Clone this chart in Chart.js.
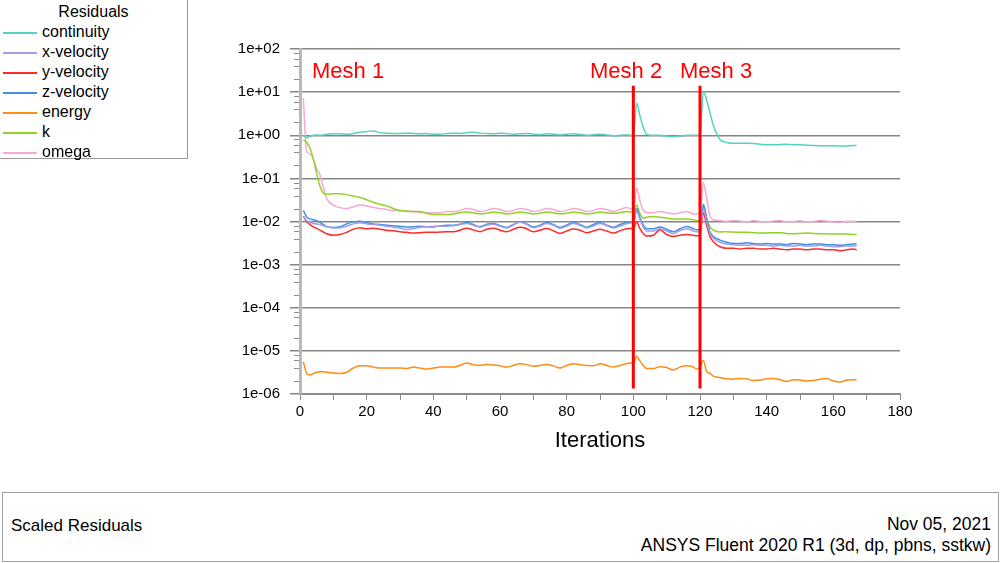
<!DOCTYPE html>
<html>
<head>
<meta charset="utf-8">
<script src="https://cdn.jsdelivr.net/npm/chart.js@4.4.1/dist/chart.umd.min.js"></script>
<style>
html,body{margin:0;padding:0;background:#fff;width:1000px;height:563px;overflow:hidden;font-family:"Liberation Sans",Arial,sans-serif;color:#000;}
#wrap{position:absolute;left:0;top:0;width:1000px;height:490px;}
#legend{position:absolute;left:-1px;top:-1px;width:187px;height:158px;border:1px solid #9a9a9a;background:#fff;}
#legend .lt{position:absolute;left:0;width:187px;top:2px;height:20px;line-height:20px;text-align:center;font-size:16px;}
#legend .row{position:absolute;left:0;width:187px;height:20px;}
#legend .sw{position:absolute;left:3px;width:34px;top:10px;height:0;border-top:2px solid #000;}
#legend .tx{position:absolute;left:42px;top:0;line-height:20px;font-size:16px;white-space:nowrap;}
#footer{position:absolute;left:2px;top:492px;width:995px;height:68px;border:1px solid #a0a0a0;background:#fff;}
#footer .l{position:absolute;left:8px;top:23px;line-height:20px;font-size:17px;}
#footer .r1{position:absolute;right:7px;top:21px;line-height:20px;text-align:right;font-size:17.5px;}
#footer .r2{position:absolute;right:7px;top:42px;line-height:20px;text-align:right;font-size:17.5px;}
</style>
</head>
<body>
<div id="wrap"><canvas id="c" width="1000" height="490"></canvas></div>
<div id="legend"><div class="lt">Residuals</div></div>
<div id="footer">
  <div class="l">Scaled Residuals</div>
  <div class="r1">Nov 05, 2021</div>
  <div class="r2">ANSYS Fluent 2020 R1 (3d, dp, pbns, sstkw)</div>
</div>
<script>
// ---------------- DATA ----------------
const iterations = [1,2,3,4,5,6,7,8,
 10,12,14,16,18,20,22,24,26,28,30,32,34,36,38,40,42,44,46,48,50,52,54,56,58,60,62,64,66,68,70,72,74,76,78,80,82,84,86,88,90,92,94,96,98,
 99,100,101,102,103,104,
 106,108,110,112,114,116,118,
 119,120,121,122,123,124,
 126,128,130,132,134,136,138,140,142,144,146,148,150,152,154,156,158,160,162,164,166,
 167];

const continuity = [1.0,0.87,0.95,1.0,1.02,1.0,1.02,1.05,
 1.08,1.08,1.05,1.1,1.18,1.22,1.25,1.15,1.12,1.1,1.1,1.12,1.1,1.08,1.1,1.05,1.05,1.1,1.12,1.1,1.15,1.18,1.12,1.1,1.08,1.12,1.1,1.05,1.08,1.1,1.06,1.04,1.08,1.06,1.02,1.05,1.08,1.04,1.0,1.03,1.06,1.02,0.98,1.0,1.02,
 1.0,1.0,5.5,2.8,1.5,1.05,
 1.0,1.0,0.95,0.92,0.95,1.0,1.0,
 1.0,1.0,10.2,6.5,3.3,1.7,
 0.8,0.68,0.65,0.65,0.65,0.64,0.62,0.6,0.6,0.61,0.62,0.6,0.6,0.59,0.58,0.57,0.57,0.57,0.56,0.56,0.58,
 0.58];

const xVelocity = [0.013,0.0105,0.0095,0.009,0.0088,0.0085,0.008,0.0075,
 0.0071,0.0072,0.0078,0.0088,0.0094,0.0088,0.0085,0.0082,0.0078,0.0074,0.0071,0.0065,0.0068,0.0074,0.0076,0.0077,0.0078,0.0078,0.008,0.0085,
 0.009,0.0082,0.0074,0.0082,0.0086,0.0078,0.0071,0.0083,0.0098,0.0086,0.0072,0.0078,0.009,0.0082,0.007,0.0078,0.009,0.0082,0.0071,0.0078,0.009,0.008,0.0071,0.0079,0.0088,
 0.0092,0.0094,0.017,0.011,0.0073,0.006,
 0.006,0.0068,0.006,0.0052,0.0062,0.0068,0.006,
 0.0058,0.0058,0.02,0.01,0.0052,0.0041,
 0.0033,0.003,0.0029,0.0028,0.0028,0.0029,0.0028,0.0028,0.0027,0.0028,0.0027,0.0027,0.0028,0.0027,0.0027,0.0028,0.0027,0.0026,0.0026,0.0027,0.0027,
 0.0027];

const yVelocity = [0.0133,0.0098,0.0085,0.0075,0.0069,0.0063,0.0057,0.0052,
 0.0048,0.005,0.0056,0.0066,0.0072,0.0068,0.007,0.0066,0.0063,0.0061,0.0058,0.0056,0.0054,0.0055,0.0056,0.0056,0.0057,0.0058,0.0058,0.0063,
 0.007,0.0064,0.0058,0.0066,0.007,0.0063,0.0058,0.0066,0.0074,0.0068,0.0058,0.0063,0.0069,0.0061,0.0053,0.006,0.0067,0.0063,0.0055,0.006,0.0066,0.006,0.0054,0.0061,0.0068,
 0.0069,0.007,0.0098,0.0068,0.0052,0.0046,
 0.0048,0.0064,0.005,0.0045,0.0048,0.005,0.0048,
 0.0047,0.0047,0.016,0.008,0.0045,0.0034,
 0.0026,0.0024,0.0024,0.0023,0.0024,0.0024,0.0023,0.0023,0.0024,0.0023,0.0022,0.0023,0.0023,0.0022,0.0023,0.0023,0.0022,0.0022,0.0021,0.0022,0.0023,
 0.0022];

const zVelocity = [0.018,0.0128,0.0115,0.011,0.0105,0.0095,0.0085,0.0076,
 0.0073,0.0076,0.0088,0.0098,0.0102,0.0093,0.0088,0.0085,0.0082,0.008,0.0077,0.0075,0.0076,0.0078,0.0076,0.0075,0.0079,0.0082,0.0082,0.0086,
 0.0096,0.0085,0.0076,0.0086,0.009,0.008,0.0073,0.0085,0.0097,0.0088,0.0075,0.0082,0.0095,0.0085,0.0073,0.0082,0.0095,0.0085,0.0074,0.0085,0.0095,0.0082,0.0074,0.0085,0.0095,
 0.0098,0.0098,0.02,0.012,0.0082,0.0068,
 0.0068,0.0075,0.0066,0.0058,0.0068,0.0077,0.0068,
 0.0064,0.0064,0.025,0.012,0.0058,0.0045,
 0.0037,0.0033,0.0031,0.0031,0.0032,0.0031,0.003,0.0031,0.003,0.003,0.0029,0.0031,0.003,0.0029,0.003,0.003,0.0029,0.0029,0.0028,0.0029,0.003,
 0.003];

const energy = [5.6e-6,3.0e-6,2.75e-6,3.0e-6,3.2e-6,3.3e-6,3.3e-6,3.2e-6,
 3.05e-6,3.0e-6,3.2e-6,4.0e-6,4.5e-6,4.5e-6,4.2e-6,4.0e-6,4.0e-6,4.0e-6,4.0e-6,3.9e-6,4.2e-6,4.0e-6,3.8e-6,4.0e-6,4.2e-6,4.2e-6,4.2e-6,4.6e-6,
 5.2e-6,4.8e-6,4.6e-6,4.8e-6,4.7e-6,4.5e-6,4.2e-6,4.6e-6,5.0e-6,4.8e-6,4.4e-6,4.6e-6,4.8e-6,4.5e-6,4.0e-6,4.6e-6,5.0e-6,4.8e-6,4.6e-6,4.5e-6,5.0e-6,4.6e-6,4.2e-6,4.6e-6,5.1e-6,
 5.2e-6,5.2e-6,7.5e-6,5.8e-6,4.6e-6,3.9e-6,
 3.9e-6,4.3e-6,4.1e-6,3.6e-6,4.2e-6,4.5e-6,4.2e-6,
 3.8e-6,4.2e-6,6.0e-6,3.3e-6,3.0e-6,2.6e-6,
 2.4e-6,2.25e-6,2.2e-6,2.3e-6,2.25e-6,2.05e-6,2.1e-6,2.25e-6,2.3e-6,2.15e-6,1.95e-6,2.15e-6,2.1e-6,2.0e-6,2.05e-6,2.2e-6,2.3e-6,2.0e-6,1.9e-6,2.1e-6,2.15e-6,
 2.15e-6];

const kRes = [0.78,0.68,0.5,0.28,0.13,0.065,0.046,0.043,
 0.044,0.044,0.042,0.039,0.036,0.032,0.028,0.025,0.023,0.02,0.018,0.0175,0.017,0.017,0.0155,0.0145,0.0145,0.0145,0.015,0.016,
 0.0165,0.016,0.015,0.0155,0.0165,0.016,0.015,0.0155,0.0165,0.016,0.015,0.0155,0.0165,0.016,0.015,0.0155,0.0165,0.016,0.015,0.0155,0.0165,0.016,0.0155,0.016,0.017,
 0.0165,0.0165,0.024,0.015,0.012,0.0125,
 0.013,0.0125,0.012,0.0115,0.0115,0.0115,0.011,
 0.0105,0.0105,0.023,0.012,0.0075,0.0063,
 0.0057,0.0058,0.0057,0.0056,0.0056,0.0055,0.0054,0.0054,0.0055,0.0055,0.0053,0.0052,0.0053,0.0054,0.0053,0.0052,0.0052,0.0051,0.0051,0.0051,0.005,
 0.005];

const omega = [7.2,0.42,0.37,0.28,0.17,0.12,0.063,0.034,
 0.024,0.021,0.02,0.022,0.024,0.023,0.021,0.02,0.019,0.018,0.018,0.017,0.017,0.016,0.016,0.016,0.016,0.017,0.017,0.018,
 0.02,0.019,0.017,0.018,0.02,0.019,0.017,0.018,0.02,0.019,0.017,0.018,0.02,0.019,0.017,0.018,0.02,0.019,0.017,0.018,0.02,0.019,0.017,0.019,0.021,
 0.02,0.019,0.06,0.03,0.018,0.016,
 0.016,0.017,0.016,0.015,0.016,0.017,0.015,
 0.015,0.016,0.08,0.035,0.013,0.011,
 0.0105,0.01,0.0105,0.0103,0.0098,0.0105,0.01,0.0098,0.0103,0.0105,0.0098,0.01,0.0104,0.0098,0.01,0.0106,0.0103,0.0097,0.0096,0.0102,0.0102,
 0.01];

const seriesNames  = ['continuity','x-velocity','y-velocity','z-velocity','energy','k','omega'];
const seriesValues = [continuity, xVelocity, yVelocity, zVelocity, energy, kRes, omega];
const seriesColors = ['#55d2c2','#a39ce6','#ff2a2a','#3f8fe2','#ff8c14','#8fd424','#f9a7d5'];

const yTickValues = [1e-6,1e-5,1e-4,1e-3,1e-2,1e-1,1e0,1e1,1e2];
const xTickStep = 10, xLabelStep = 20;

const meshLabels = ['Mesh 1','Mesh 2','Mesh 3'];
const meshLabelIters = [3.6, 87, 114];
const meshLabelValue = 21;
const meshLineIters = [100, 120];
const meshLineTop = 14, meshLineBottom = 1.35e-6;

// ---------------- LEGEND (HTML) ----------------
const lg = document.getElementById('legend');
seriesNames.forEach((n,i)=>{
  const r = document.createElement('div'); r.className='row'; r.style.top=(22+20*i)+'px';
  const sw = document.createElement('div'); sw.className='sw'; sw.style.borderTopColor=seriesColors[i];
  const tx = document.createElement('div'); tx.className='tx'; tx.textContent=n;
  r.appendChild(sw); r.appendChild(tx); lg.appendChild(r);
});

// ---------------- CHART ----------------
function fmtExp(v){
  const e = Math.round(Math.log10(v));
  return '1e' + (e<0?'-':'+') + String(Math.abs(e)).padStart(2,'0');
}

const minorTicksPlugin = {
  id:'minorTicks',
  afterDraw(chart){
    const {ctx, scales:{y}, chartArea} = chart;
    ctx.save();
    ctx.strokeStyle = '#8c8c8c'; ctx.lineWidth = 1;
    for (let d=-6; d<2; d++){
      [2,4,6,8].forEach(m=>{
        const py = Math.round(y.getPixelForValue(m*Math.pow(10,d)))+0.5;
        ctx.beginPath(); ctx.moveTo(chartArea.left-6, py); ctx.lineTo(chartArea.left-1, py); ctx.stroke();
      });
    }
    ctx.restore();
  }
};

const meshPlugin = {
  id:'mesh',
  afterDatasetsDraw(chart){
    const {ctx, scales:{x,y}} = chart;
    ctx.save();
    ctx.strokeStyle = '#ff0000'; ctx.lineWidth = 3;
    meshLineIters.forEach(it=>{
      const px = x.getPixelForValue(it);
      ctx.beginPath();
      ctx.moveTo(px, y.getPixelForValue(meshLineTop));
      ctx.lineTo(px, y.getPixelForValue(meshLineBottom));
      ctx.stroke();
    });
    ctx.fillStyle = '#ff0000';
    ctx.font = '22px "Liberation Sans", Arial, sans-serif';
    ctx.textBaseline = 'alphabetic'; ctx.textAlign = 'left';
    meshLabels.forEach((t,i)=>{
      ctx.fillText(t, x.getPixelForValue(meshLabelIters[i]), y.getPixelForValue(meshLabelValue));
    });
    ctx.restore();
  }
};

const datasets = seriesNames.map((n,i)=>({
  label:n,
  data: iterations.map((it,j)=>({x:it, y:seriesValues[i][j]})),
  borderColor: seriesColors[i],
  backgroundColor: seriesColors[i],
  borderWidth: 1.5,
  pointRadius: 0,
  fill:false,
  cubicInterpolationMode:'monotone'
}));

new Chart(document.getElementById('c'), {
  type:'line',
  data:{datasets},
  options:{
    responsive:false,
    animation:false,
    devicePixelRatio:1,
    layout:{padding:{left:0,right:100,top:49,bottom:36}},
    plugins:{legend:{display:false}, tooltip:{enabled:false}, title:{display:false}},
    scales:{
      x:{
        type:'linear', min:0, max:180,
        afterBuildTicks:(s)=>{ const t=[]; for(let v=0; v<=180; v+=xTickStep) t.push({value:v}); s.ticks=t; },
        afterFit:(s)=>{ s.height=60; },
        ticks:{autoSkip:false, maxRotation:0, minRotation:0, padding:3, color:'#000',
               font:{family:'"Liberation Sans", Arial, sans-serif', size:15},
               callback:(v)=> (v % xLabelStep === 0) ? String(v) : ''},
        grid:{drawOnChartArea:false, drawTicks:true, tickLength:6, color:'#8c8c8c', lineWidth:1},
        border:{display:true, color:'#8c8c8c', width:2},
        title:{display:true, text:'Iterations', color:'#000', padding:{top:0,bottom:0},
               font:{family:'"Liberation Sans", Arial, sans-serif', size:22}}
      },
      y:{
        type:'logarithmic', min:1e-6, max:1e2,
        afterBuildTicks:(s)=>{ s.ticks = yTickValues.map(v=>({value:v, major:true})); },
        afterFit:(s)=>{ s.width=300; },
        ticks:{autoSkip:false, padding:10, color:'#000',
               font:{family:'"Liberation Sans", Arial, sans-serif', size:15},
               callback:(v)=>fmtExp(v)},
        grid:{color:'#858585', lineWidth:1.5, tickLength:10, drawTicks:true},
        border:{display:true, color:'#b8b8b8', width:3}
      }
    }
  },
  plugins:[minorTicksPlugin, meshPlugin]
});
</script>
</body>
</html>
